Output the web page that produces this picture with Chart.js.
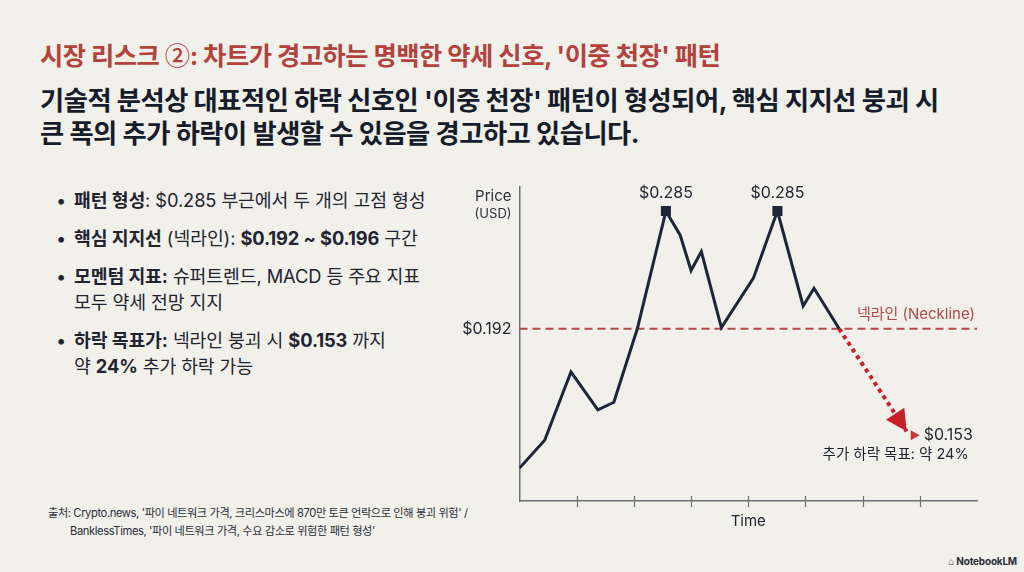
<!DOCTYPE html>
<html lang="ko">
<head>
<meta charset="utf-8">
<title>이중 천장 패턴</title>
<script src="https://cdn.jsdelivr.net/npm/chart.js@4.4.1/dist/chart.umd.min.js"></script>
<style>
  html, body { margin: 0; padding: 0; }
  body {
    width: 1024px; height: 572px; overflow: hidden; position: relative;
    background: #f1f0eb;
    font-family: Inter, "Noto Sans CJK KR", sans-serif;
    color: #1c2230;
  }
  .title {
    position: absolute; left: 40px; top: 36px;
    font-size: 25.3px; font-weight: 700; color: #b2433c; letter-spacing: -0.5px;
    white-space: nowrap;
  }
  .title .circ { font-family: "Noto Sans CJK KR", sans-serif; font-weight: 500; }
  .lead {
    position: absolute; left: 40px; top: 84px;
    font-size: 26.3px; font-weight: 700; line-height: 33px; color: #161c2a;
    letter-spacing: -0.5px; white-space: nowrap;
  }
  ul.points {
    position: absolute; left: 52px; top: 187px; margin: 0; padding: 0; list-style: none;
    font-size: 18.3px; line-height: 26px; color: #1f2430; letter-spacing: -0.1px;
  }
  ul.points li { position: relative; padding-left: 22px; margin-bottom: 12px; white-space: nowrap; }
  ul.points li::before { content: "•"; position: absolute; left: 4px; top: 0; }
  ul.points b { font-weight: 700; }
  .source {
    position: absolute; left: 48px; top: 504px;
    font-size: 11.2px; line-height: 18px; color: #2a2f3a; letter-spacing: -0.4px; white-space: nowrap;
  }
  .source .l2 { padding-left: 22px; }
  .brand {
    position: absolute; right: 7px; bottom: 5px;
    font-size: 10px; font-weight: 700; color: #2a2f3a; letter-spacing: -0.2px;
  }
  #chartDoubleTop { position: absolute; left: 0; top: 0; }
</style>
</head>
<body>
  <div class="title">시장 리스크 <span class="circ">②</span>: 차트가 경고하는 명백한 약세 신호, '이중 천장' 패턴</div>
  <div class="lead">기술적 분석상 대표적인 하락 신호인 '이중 천장' 패턴이 형성되어, 핵심 지지선 붕괴 시<br>큰 폭의 추가 하락이 발생할 수 있음을 경고하고 있습니다.</div>
  <ul class="points">
    <li><b>패턴 형성</b>: $0.285 부근에서 두 개의 고점 형성</li>
    <li><b>핵심 지지선</b> (넥라인): <b>$0.192 ~ $0.196</b> 구간</li>
    <li><b>모멘텀 지표:</b> 슈퍼트렌드, MACD 등 주요 지표<br>모두 약세 전망 지지</li>
    <li><b>하락 목표가:</b> 넥라인 붕괴 시 <b>$0.153</b> 까지<br>약 <b>24%</b> 추가 하락 가능</li>
  </ul>
  <div class="source">출처: Crypto.news, '파이 네트워크 가격, 크리스마스에 870만 토큰 언락으로 인해 붕괴 위험' /<br><span class="l2">BanklessTimes, '파이 네트워크 가격, 수요 감소로 위험한 패턴 형성'</span></div>
  <div class="brand">⌂ NotebookLM</div>

  <canvas id="chartDoubleTop" width="1024" height="572"></canvas>

<script>
(function() {
  'use strict';

  // Datos (eje X en unidades de tiempo, 10 por marca)
  const timeX  = [0, 4.4, 9.0, 13.7, 16.5, 20.6, 25.6, 28.1, 30.0, 31.8, 35.3, 40.9, 45.1, 49.6, 51.5, 55.9];
  const prices = [0.082, 0.104, 0.158, 0.128, 0.134, 0.192, 0.285, 0.266, 0.238, 0.253, 0.193, 0.232, 0.285, 0.210, 0.224, 0.192];
  const peakIndexes = [6, 12];

  const necklineValue = 0.192;
  const necklineX = [0, 80];

  // Proyección (esquemática, igual que en la imagen)
  const projectionX = [55.9, 67.7];
  const projectionY = [0.192, 0.111];

  const yTickValues = [0.192];
  const xTickValues = [10, 20, 30, 40, 50, 60, 70];

  const peakLabel = '$0.285';
  const necklineLabel = '넥라인 (Neckline)';
  const targetLabel = '$0.153';
  const targetNote = '추가 하락 목표: 약 24%';

  const NAVY = '#1c2638';
  const RED_DASH = '#b5474a';
  const RED = '#c8202a';
  const AXIS = '#6b6e74';
  const FONT = 'Inter, "Noto Sans CJK KR", sans-serif';

  const annotations = {
    id: 'doubleTopLabels',
    afterDatasetsDraw(chart) {
      const { ctx, chartArea } = chart;
      const x = chart.scales.x;
      const y = chart.scales.y;
      ctx.save();

      // marcas del eje X que cruzan la línea
      ctx.strokeStyle = AXIS;
      ctx.lineWidth = 1.2;
      xTickValues.forEach(v => {
        const px = Math.round(x.getPixelForValue(v)) + 0.5;
        ctx.beginPath();
        ctx.moveTo(px, chartArea.bottom - 5);
        ctx.lineTo(px, chartArea.bottom + 6);
        ctx.stroke();
      });

      // etiqueta del eje Y
      ctx.fillStyle = '#2a2f3a';
      ctx.textAlign = 'right';
      ctx.textBaseline = 'middle';
      ctx.font = '15px ' + FONT;
      ctx.fillText('Price', chartArea.left - 8, chartArea.top + 9);
      ctx.font = '13px ' + FONT;
      ctx.fillText('(USD)', chartArea.left - 8, chartArea.top + 27);

      // etiquetas de los picos
      ctx.textAlign = 'center';
      ctx.font = '16px ' + FONT;
      ctx.fillStyle = '#1e2430';
      peakIndexes.forEach(i => {
        ctx.fillText(peakLabel, x.getPixelForValue(timeX[i]), y.getPixelForValue(prices[i]) - 18);
      });

      // etiqueta de la línea de cuello
      ctx.textAlign = 'right';
      ctx.font = '15px ' + FONT;
      ctx.fillStyle = RED_DASH;
      ctx.fillText(necklineLabel, chartArea.right - 2, y.getPixelForValue(necklineValue) - 14);

      // punta de flecha
      const x0 = x.getPixelForValue(projectionX[0]);
      const y0 = y.getPixelForValue(projectionY[0]);
      const x1 = x.getPixelForValue(projectionX[1]);
      const y1 = y.getPixelForValue(projectionY[1]);
      const ang = Math.atan2(y1 - y0, x1 - x0);
      const len = 21, half = 11;
      ctx.fillStyle = RED;
      ctx.beginPath();
      ctx.moveTo(x1, y1);
      ctx.lineTo(x1 - len * Math.cos(ang) + half * Math.sin(ang), y1 - len * Math.sin(ang) - half * Math.cos(ang));
      ctx.lineTo(x1 - len * Math.cos(ang) - half * Math.sin(ang), y1 - len * Math.sin(ang) + half * Math.cos(ang));
      ctx.closePath();
      ctx.fill();

      // marcador y texto del objetivo
      ctx.fillStyle = '#c0393b';
      ctx.beginPath();
      ctx.moveTo(x1 + 4, y1 - 1);
      ctx.lineTo(x1 + 13, y1 + 4);
      ctx.lineTo(x1 + 4, y1 + 9);
      ctx.closePath();
      ctx.fill();

      ctx.fillStyle = '#1e2430';
      ctx.textAlign = 'left';
      ctx.font = '16px ' + FONT;
      ctx.fillText(targetLabel, x1 + 17, y1 + 4);
      ctx.textAlign = 'right';
      ctx.font = '14.5px ' + FONT;
      ctx.fillText(targetNote, x1 + 62, y1 + 23);

      // título del eje X
      ctx.textAlign = 'center';
      ctx.font = '15px ' + FONT;
      ctx.fillStyle = '#1e2430';
      ctx.fillText('Time', (chartArea.left + chartArea.right) / 2, chartArea.bottom + 20);

      ctx.restore();
    }
  };

  function init() {
    const canvas = document.getElementById('chartDoubleTop');
    if (!canvas) return;

    new Chart(canvas.getContext('2d'), {
      type: 'line',
      data: {
        datasets: [
          {
            label: 'Neckline',
            data: necklineX.map(v => ({ x: v, y: necklineValue })),
            borderColor: RED_DASH,
            borderWidth: 2,
            borderDash: [8, 5],
            pointRadius: 0,
            order: 3
          },
          {
            label: 'Price',
            data: timeX.map((v, i) => ({ x: v, y: prices[i] })),
            borderColor: NAVY,
            borderWidth: 3,
            borderJoinStyle: 'miter',
            tension: 0,
            pointStyle: 'rect',
            pointRadius: c => peakIndexes.includes(c.dataIndex) ? 5 : 0,
            pointBackgroundColor: NAVY,
            pointBorderColor: NAVY,
            order: 1
          },
          {
            label: 'Projection',
            data: projectionX.map((v, i) => ({ x: v, y: projectionY[i] })),
            borderColor: RED,
            borderWidth: 4,
            borderDash: [4, 4],
            pointRadius: 0,
            order: 2
          }
        ]
      },
      options: {
        responsive: false,
        animation: false,
        devicePixelRatio: 1,
        layout: { padding: { left: 440, top: 187, right: 47, bottom: 71 } },
        plugins: {
          legend: { display: false },
          tooltip: { enabled: false }
        },
        scales: {
          x: {
            type: 'linear',
            min: 0,
            max: 80,
            ticks: { display: false, stepSize: 10 },
            grid: { drawOnChartArea: false, drawTicks: false },
            border: { color: AXIS, width: 1.5 },
            afterFit: s => { s.height = 0; }
          },
          y: {
            min: 0.056,
            max: 0.304,
            afterBuildTicks: s => { s.ticks = yTickValues.map(v => ({ value: v })); },
            ticks: {
              padding: 8,
              color: '#1e2430',
              font: { family: FONT, size: 16 },
              callback: v => '$' + Number(v).toFixed(3)
            },
            grid: { drawOnChartArea: false, drawTicks: false },
            border: { color: AXIS, width: 1.5 },
            afterFit: s => { s.width = 79.5; }
          }
        }
      },
      plugins: [annotations]
    });
  }

  if (document.readyState === 'loading') {
    document.addEventListener('DOMContentLoaded', init);
  } else {
    init();
  }
})();
</script>
</body>
</html>
